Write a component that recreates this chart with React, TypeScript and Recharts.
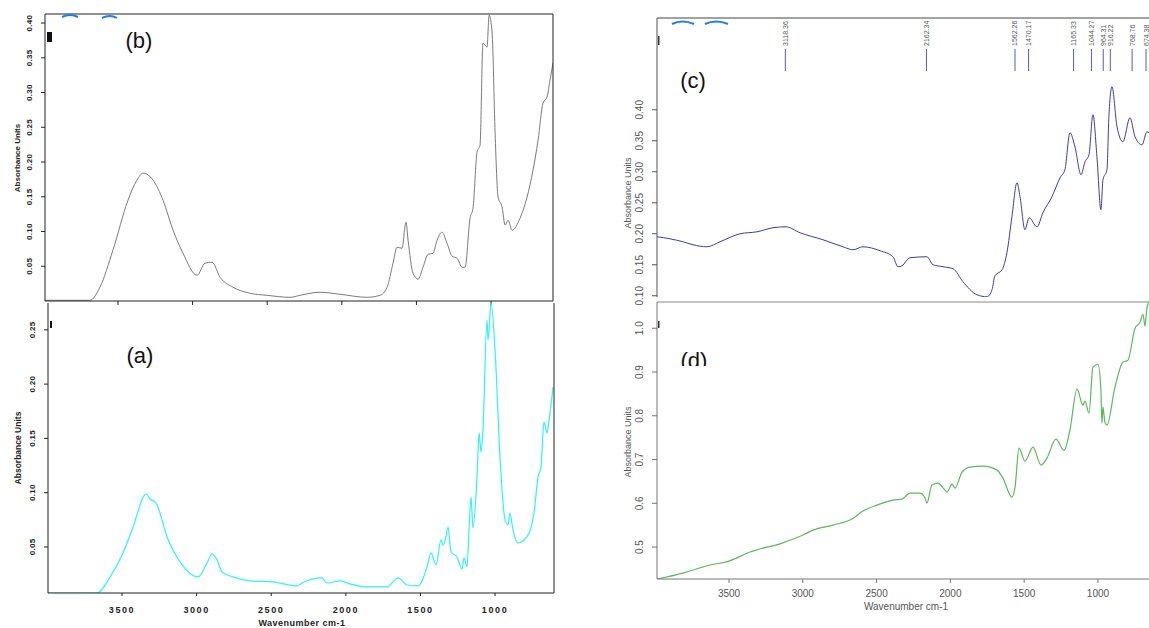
import React from 'react';
import { LineChart, Line, XAxis, YAxis, ReferenceLine } from 'recharts';

const FONT = "'Liberation Sans', Arial, Helvetica, sans-serif";

// ---------- Panel (a): cyan spectrum ----------
const aWavenumber = [3996, 3668, 3580, 3493, 3426, 3339, 3312, 3272, 3198, 3111, 2991, 2930, 2897, 2863, 2830, 2756, 2642, 2488, 2327, 2294, 2160, 2126, 2039, 1972, 1858, 1724, 1650, 1590, 1516, 1456, 1429, 1396, 1362, 1349, 1329, 1315, 1295, 1255, 1221, 1208, 1188, 1174, 1161, 1148, 1121, 1107, 1094, 1081, 1054, 1047, 1027, 1000, 967, 933, 913, 900, 880, 846, 786, 739, 712, 692, 672, 652, 638, 611];
const aAbsorbance = [0.0076, 0.0076, 0.0224, 0.0445, 0.0684, 0.0988, 0.0942, 0.0905, 0.0592, 0.0362, 0.0224, 0.0353, 0.0436, 0.038, 0.027, 0.0224, 0.0187, 0.0178, 0.0141, 0.0168, 0.0215, 0.0168, 0.0187, 0.016, 0.0132, 0.0132, 0.0215, 0.015, 0.0141, 0.0316, 0.0445, 0.0334, 0.0564, 0.0518, 0.0592, 0.0684, 0.0454, 0.0408, 0.0297, 0.0399, 0.0316, 0.0684, 0.096, 0.0675, 0.1145, 0.155, 0.1375, 0.1577, 0.259, 0.2406, 0.2747, 0.2314, 0.1329, 0.0749, 0.0703, 0.0813, 0.0657, 0.0537, 0.0592, 0.0813, 0.1145, 0.1237, 0.1651, 0.155, 0.1669, 0.1973];
const aYTicks = [0.05, 0.1, 0.15, 0.2, 0.25];

// ---------- Panel (b): grey spectrum ----------
const bWavenumber = [3989, 3688, 3621, 3534, 3433, 3373, 3332, 3265, 3198, 3131, 3064, 2971, 2917, 2870, 2816, 2729, 2615, 2501, 2347, 2280, 2146, 2012, 1831, 1744, 1697, 1657, 1630, 1597, 1570, 1556, 1523, 1489, 1456, 1422, 1389, 1362, 1329, 1295, 1261, 1228, 1194, 1174, 1141, 1121, 1094, 1074, 1054, 1027, 1013, 993, 973, 953, 926, 906, 886, 859, 806, 759, 719, 685, 652, 625, 605, 585];
const bAbsorbance = [0.001, 0.001, 0.0198, 0.073, 0.145, 0.1739, 0.184, 0.1739, 0.145, 0.1019, 0.0687, 0.037, 0.0543, 0.0558, 0.0342, 0.0198, 0.0111, 0.0082, 0.0053, 0.0082, 0.0126, 0.0097, 0.0053, 0.0082, 0.0198, 0.0543, 0.0774, 0.0759, 0.1134, 0.0874, 0.0399, 0.0313, 0.0486, 0.0673, 0.0687, 0.0874, 0.099, 0.0831, 0.0644, 0.0615, 0.0486, 0.0486, 0.1191, 0.1335, 0.2142, 0.2243, 0.3712, 0.3654, 0.4115, 0.3856, 0.2416, 0.1494, 0.135, 0.1091, 0.1163, 0.1019, 0.1191, 0.1494, 0.1883, 0.2315, 0.2848, 0.2934, 0.3179, 0.3424];
const bYTicks = [0.05, 0.1, 0.15, 0.2, 0.25, 0.3, 0.35, 0.4];

// ---------- Panel (c): navy spectrum with peak picks ----------
const cWavenumber = [3988, 3900, 3812, 3744, 3649, 3561, 3425, 3310, 3202, 3114, 3019, 2863, 2728, 2660, 2592, 2477, 2389, 2355, 2328, 2274, 2159, 2118, 2050, 1982, 1915, 1820, 1752, 1718, 1698, 1650, 1617, 1583, 1549, 1528, 1495, 1467, 1413, 1373, 1312, 1257, 1224, 1190, 1156, 1115, 1088, 1061, 1034, 1007, 980, 966, 939, 926, 905, 871, 831, 783, 749, 702, 668, 640];
const cAbsorbance = [0.1952, 0.1919, 0.1871, 0.1823, 0.179, 0.1871, 0.2, 0.2032, 0.2097, 0.2113, 0.2016, 0.1903, 0.179, 0.1742, 0.179, 0.1726, 0.1629, 0.1468, 0.1484, 0.1613, 0.1629, 0.15, 0.1468, 0.1435, 0.1226, 0.1016, 0.0984, 0.1097, 0.1323, 0.1419, 0.1694, 0.2274, 0.2823, 0.2597, 0.2065, 0.2258, 0.2113, 0.2339, 0.2597, 0.2903, 0.3032, 0.3629, 0.3403, 0.2952, 0.3161, 0.3274, 0.3919, 0.3242, 0.2387, 0.2871, 0.3032, 0.3887, 0.4371, 0.3726, 0.3484, 0.3871, 0.3565, 0.3435, 0.3645, 0.36];
const cYTicks = [0.1, 0.15, 0.2, 0.25, 0.3, 0.35, 0.4];
const cPeakWavenumber = [3118.36, 2162.34, 1562.26, 1470.17, 1165.33, 1044.27, 964.31, 916.22, 768.76, 674.38];
const cPeakLabel = ['3118.36', '2162.34', '1562.26', '1470.17', '1165.33', '1044.27', '964.31', '916.22', '768.76', '674.38'];
const cPeakMarkTop = 0.498;
const cPeakMarkBottom = 0.4625;

// ---------- Panel (d): green spectrum ----------
const dWavenumber = [3988, 3812, 3629, 3500, 3358, 3141, 2999, 2931, 2795, 2667, 2592, 2497, 2389, 2328, 2274, 2206, 2172, 2159, 2125, 2084, 2037, 2023, 1989, 1969, 1921, 1867, 1779, 1684, 1644, 1583, 1562, 1535, 1495, 1440, 1386, 1346, 1285, 1230, 1190, 1142, 1102, 1088, 1061, 1034, 1000, 980, 973, 966, 953, 939, 885, 831, 797, 749, 715, 695, 681, 668, 654];
const dAbsorbance = [0.427, 0.4406, 0.4589, 0.468, 0.4886, 0.5091, 0.5274, 0.5388, 0.5502, 0.5639, 0.5822, 0.5959, 0.6073, 0.6096, 0.6233, 0.6233, 0.6119, 0.6005, 0.6416, 0.6461, 0.6301, 0.6256, 0.6438, 0.6347, 0.6712, 0.6826, 0.6849, 0.6758, 0.6575, 0.6142, 0.637, 0.726, 0.6963, 0.7283, 0.6872, 0.7032, 0.7466, 0.721, 0.7671, 0.8607, 0.8242, 0.8333, 0.8059, 0.911, 0.9178, 0.8584, 0.7831, 0.8196, 0.7854, 0.7785, 0.8653, 0.9224, 0.9269, 1.0, 1.0137, 1.032, 1.0046, 1.0479, 1.059];
const dYTicks = [0.5, 0.6, 0.7, 0.8, 0.9, 1.0];

const xTicks = [3500, 3000, 2500, 2000, 1500, 1000];

const zip = (xs: number[], ys: number[]) =>
  xs.slice(0, Math.min(xs.length, ys.length)).map((wn, i) => ({ wn, v: ys[i] }));

const dataA = zip(aWavenumber, aAbsorbance);
const dataB = zip(bWavenumber, bAbsorbance);
const dataC = zip(cWavenumber, cAbsorbance);
const dataD = zip(dWavenumber, dAbsorbance);

type TickStyle = { dx: number; size: number; weight: string; fill: string; digits: number; spacing?: number };

const makeYTick = (s: TickStyle) => (props: any) => {
  const { x, y, payload } = props;
  const bx = x + s.dx;
  return (
    <text
      x={bx}
      y={y}
      transform={`rotate(-90 ${bx} ${y})`}
      textAnchor="middle"
      fontFamily={FONT}
      fontSize={s.size}
      fontWeight={s.weight}
      fill={s.fill}
      letterSpacing={s.spacing || 0}
    >
      {Number(payload.value).toFixed(s.digits)}
    </text>
  );
};

const makeXTick = (dy: number, size: number, weight: string, fill: string, spacing: number) => (props: any) => {
  const { x, y, payload } = props;
  return (
    <text x={x} y={y + dy} textAnchor="middle" fontFamily={FONT} fontSize={size} fontWeight={weight} fill={fill} letterSpacing={spacing}>
      {payload.value}
    </text>
  );
};

const noTick = () => <g />;

const boldYTick = makeYTick({ dx: -7, size: 8, weight: 'bold', fill: '#222', digits: 2, spacing: 0.3 });
const greyYTickC = makeYTick({ dx: -7, size: 10, weight: 'normal', fill: '#555', digits: 2 });
const greyYTickD = makeYTick({ dx: -7, size: 10, weight: 'normal', fill: '#555', digits: 1 });

const peakShape = (label: string) => (p: any) => {
  const x = p.x1;
  const top = Math.min(p.y1, p.y2);
  const bottom = Math.max(p.y1, p.y2);
  const tx = x + 2.5;
  const ty = top - 3;
  return (
    <g>
      <line x1={x} y1={top} x2={x} y2={bottom} stroke="#5a5ab4" strokeWidth={1} />
      <text x={tx} y={ty} transform={`rotate(-90 ${tx} ${ty})`} textAnchor="start" fontFamily={FONT} fontSize={7} fill="#555">
        {label}
      </text>
    </g>
  );
};

export default function App() {
  return (
    <div style={{ position: 'absolute', left: 0, top: 0, width: 1149, height: 628, overflow: 'hidden', background: '#fff' }}>
      {/* Panel (b) */}
      <div style={{ position: 'absolute', left: 0, top: 0 }}>
        <LineChart width={560} height={310} data={dataB} margin={{ top: 13, right: 6, bottom: 0, left: 0 }}>
          <XAxis dataKey="wn" type="number" domain={[585, 3989]} reversed allowDataOverflow ticks={xTicks} interval={0} height={9} tickSize={4} tick={noTick} axisLine={{ stroke: '#222' }} tickLine={{ stroke: '#222' }} />
          <XAxis xAxisId="top" orientation="top" type="number" domain={[585, 3989]} reversed allowDataOverflow height={1} tick={false} tickLine={false} axisLine={{ stroke: '#222' }} />
          <YAxis type="number" domain={[0, 0.413]} allowDataOverflow ticks={bYTicks} interval={0} width={45} tickSize={4} tick={boldYTick} axisLine={{ stroke: '#222' }} tickLine={{ stroke: '#222' }} />
          <YAxis yAxisId="r" orientation="right" type="number" domain={[0, 1]} width={1} tick={false} tickLine={false} axisLine={{ stroke: '#222' }} />
          <Line type="monotone" dataKey="v" stroke="#7a7a7a" strokeWidth={1} dot={false} isAnimationActive={false} />
        </LineChart>
      </div>

      {/* Panel (a) */}
      <div style={{ position: 'absolute', left: 0, top: 300 }}>
        <LineChart width={560} height={328} data={dataA} margin={{ top: 3, right: 5, bottom: 0, left: 0 }}>
          <XAxis dataKey="wn" type="number" domain={[605, 3996]} reversed allowDataOverflow ticks={xTicks} interval={0} height={35} tickSize={3} tick={makeXTick(15, 9, 'bold', '#222', 1.6)} axisLine={{ stroke: '#222' }} tickLine={{ stroke: '#222' }} />
          <YAxis type="number" domain={[0.0076, 0.2747]} allowDataOverflow ticks={aYTicks} interval={0} width={48} tickSize={4} tick={boldYTick} axisLine={{ stroke: '#222' }} tickLine={{ stroke: '#222' }} />
          <YAxis yAxisId="r" orientation="right" type="number" domain={[0, 1]} width={1} tick={false} tickLine={false} axisLine={{ stroke: '#222' }} />
          <Line type="monotone" dataKey="v" stroke="#2ef2f6" strokeWidth={1.2} dot={false} isAnimationActive={false} />
        </LineChart>
      </div>

      {/* Panel (c) */}
      <div style={{ position: 'absolute', left: 600, top: 0 }}>
        <LineChart width={560} height={310} data={dataC} margin={{ top: 17, right: 3, bottom: 13, left: 0 }}>
          <XAxis dataKey="wn" type="number" domain={[600, 3988]} reversed allowDataOverflow hide />
          <XAxis xAxisId="top" orientation="top" type="number" domain={[600, 3988]} reversed allowDataOverflow height={1} tick={false} tickLine={false} axisLine={{ stroke: '#444' }} />
          <YAxis type="number" domain={[0.098, 0.548]} allowDataOverflow ticks={cYTicks} interval={0} width={57} tickSize={5} tick={greyYTickC} axisLine={{ stroke: '#555' }} tickLine={{ stroke: '#555' }} />
          {cPeakWavenumber.map((wn, i) => (
            <ReferenceLine
              key={cPeakLabel[i]}
              segment={[{ x: wn, y: cPeakMarkTop }, { x: wn, y: cPeakMarkBottom }]}
              ifOverflow="visible"
              shape={peakShape(cPeakLabel[i])}
            />
          ))}
          <Line type="monotone" dataKey="v" stroke="#3b3ba8" strokeWidth={1} dot={false} isAnimationActive={false} />
        </LineChart>
      </div>

      {/* Panel (d) */}
      <div style={{ position: 'absolute', left: 600, top: 301 }}>
        <LineChart width={560} height={327} data={dataD} margin={{ top: 0, right: 3, bottom: 0, left: 0 }}>
          <XAxis dataKey="wn" type="number" domain={[600, 3988]} reversed allowDataOverflow ticks={xTicks} interval={0} height={49} tickSize={4} tick={makeXTick(12, 10, 'normal', '#555', 0)} axisLine={{ stroke: '#777' }} tickLine={{ stroke: '#777' }} />
          <XAxis xAxisId="top" orientation="top" type="number" domain={[600, 3988]} reversed allowDataOverflow height={1} tick={false} tickLine={false} axisLine={{ stroke: '#888' }} />
          <YAxis type="number" domain={[0.427, 1.06]} allowDataOverflow ticks={dYTicks} interval={0} width={57} tickSize={5} tick={greyYTickD} axisLine={{ stroke: '#777' }} tickLine={{ stroke: '#777' }} />
          <Line type="monotone" dataKey="v" stroke="#5cb85c" strokeWidth={1.2} dot={false} isAnimationActive={false} />
        </LineChart>
      </div>

      {/* Text overlay: panel letters and axis titles */}
      <svg width={1149} height={628} style={{ position: 'absolute', left: 0, top: 0, pointerEvents: 'none' }}>
        <defs>
          <clipPath id="dclip">
            <rect x={600} y={330} width={200} height={36} />
          </clipPath>
        </defs>
        <text x={139} y={48} textAnchor="middle" fontFamily={FONT} fontSize={22} fill="#111">(b)</text>
        <text x={140} y={363} textAnchor="middle" fontFamily={FONT} fontSize={22} fill="#111">(a)</text>
        <text x={693} y={88} textAnchor="middle" fontFamily={FONT} fontSize={22} fill="#111">(c)</text>
        <g clipPath="url(#dclip)">
          <text x={694} y={368} textAnchor="middle" fontFamily={FONT} fontSize={22} fill="#111">(d)</text>
        </g>

        <text x={20} y={158} transform="rotate(-90 20 158)" textAnchor="middle" fontFamily={FONT} fontSize={8} fontWeight="bold" fill="#222">Absorbance Units</text>
        <text x={21} y={448} transform="rotate(-90 21 448)" textAnchor="middle" fontFamily={FONT} fontSize={8.5} fontWeight="bold" fill="#222">Absorbance Units</text>
        <text x={631} y={193} transform="rotate(-90 631 193)" textAnchor="middle" fontFamily={FONT} fontSize={9} fill="#555">Absorbance Units</text>
        <text x={631} y={442} transform="rotate(-90 631 442)" textAnchor="middle" fontFamily={FONT} fontSize={9} fill="#555">Absorbance Units</text>

        <text x={302} y={626} textAnchor="middle" fontFamily={FONT} fontSize={9} fontWeight="bold" fill="#222" letterSpacing={0.5}>Wavenumber cm-1</text>
        <text x={906} y={610} textAnchor="middle" fontFamily={FONT} fontSize={10} fill="#555">Wavenumber cm-1</text>

        {/* small instrument marks */}
        <path d="M62 17 Q70 13 78 17" stroke="#1e7fe0" strokeWidth={2} fill="none" />
        <path d="M102 18 Q110 14 117 18" stroke="#1e7fe0" strokeWidth={2} fill="none" />
        <rect x={47} y={32} width={5} height={10} fill="#111" />
        <rect x={50} y={321} width={2} height={7} fill="#111" />
        <path d="M672 24 Q682 19 694 24" stroke="#1e7fe0" strokeWidth={2} fill="none" />
        <path d="M705 24 Q716 19 728 24" stroke="#1e7fe0" strokeWidth={2} fill="none" />
        <rect x={658} y={36} width={1.5} height={9} fill="#333" />
        <rect x={658} y={321} width={1.5} height={7} fill="#333" />
      </svg>
    </div>
  );
}
